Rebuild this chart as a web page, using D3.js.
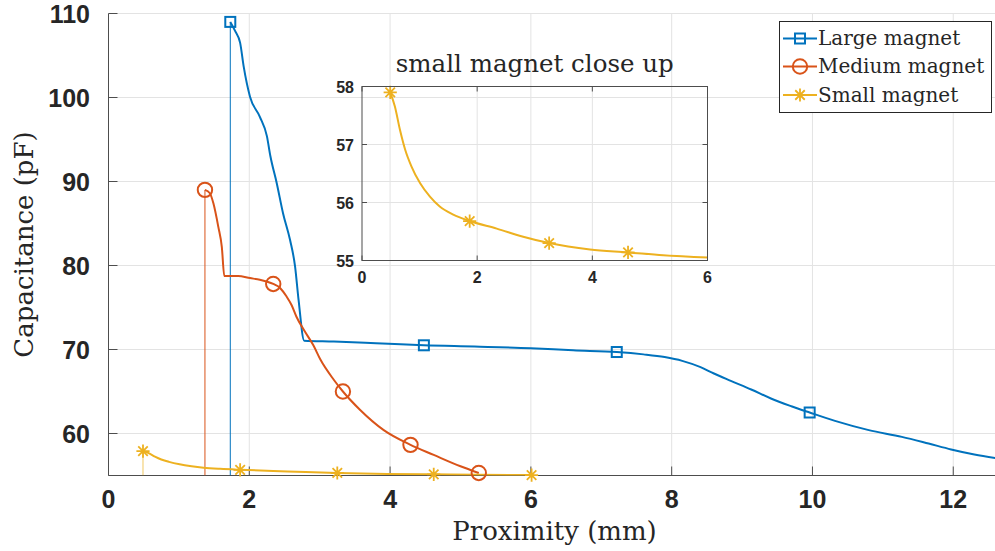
<!DOCTYPE html>
<html lang="en">
<head>
  <meta charset="UTF-8">
  <title>Capacitance vs Proximity</title>
  <script src="https://d3js.org/d3.v7.min.js"></script>
  <style>
    body { margin: 0; background: #fff; }
    .tick-lbl { font-family: "Liberation Sans", Arial, sans-serif; font-weight: bold; fill: #262626; }
    .serif { font-family: "DejaVu Serif", serif; fill: #262626; }
  </style>
</head>
<body>
<svg id="chart" width="995" height="551"></svg>

<script>
// ---- data ----
const largeX = [1.73,1.80,1.87,1.92,2.01,2.15,2.25,2.30,2.39,2.48,2.58,2.65,2.70,2.78,3.20,3.80,4.48,5.20,6.00,6.60,7.22,7.60,7.90,8.15,8.41,8.60,8.84,9.13,9.41,9.70,9.96,10.32,10.80,11.27,11.65,11.97,12.30,12.65];
const largeY = [109.0,107.9,106.5,103.7,100.1,97.7,95.4,93.0,89.8,86.2,83.0,79.9,75.9,71.05,70.95,70.75,70.5,70.35,70.15,69.9,69.7,69.42,69.1,68.65,67.9,67.14,66.27,65.24,64.17,63.25,62.5,61.5,60.4,59.6,58.8,58.1,57.5,57.0];
const largeMarkers = [0, 16, 20, 30];

const mediumX = [1.37,1.44,1.49,1.56,1.61,1.645,1.84,2.01,2.15,2.34,2.44,2.53,2.60,2.67,2.77,2.91,3.01,3.20,3.33,3.575,3.91,4.29,4.62,5.00,5.26];
const mediumY = [89.0,88.6,87.4,84.6,82.2,78.75,78.75,78.5,78.3,77.8,77.3,76.3,75.3,73.9,72.4,70.5,68.8,66.4,65.0,62.8,60.4,58.65,57.45,56.1,55.3];
const mediumMarkers = [0, 9, 18, 21, 24];

const smallX = [0.49,0.57,0.66,0.75,0.86,1.01,1.18,1.35,1.585,1.87,2.34,2.80,3.25,3.96,4.62,5.23,6.01];
const smallY = [57.9,57.66,57.25,56.91,56.62,56.33,56.10,55.93,55.79,55.68,55.55,55.41,55.30,55.19,55.14,55.09,55.05];
const smallMarkers = [0, 9, 12, 14, 16];

const seriesNames = ["Large magnet", "Medium magnet", "Small magnet"];
const xTicks = [0, 2, 4, 6, 8, 10, 12];
const yTicks = [60, 70, 80, 90, 100, 110];
const insetXTicks = [0, 2, 4, 6];
const insetYTicks = [55, 56, 57, 58];

const colors = ["#0072BD", "#D95319", "#EDB120"];
const shapes = ["square", "circle", "star"];

const series = [
  { name: seriesNames[0], xs: largeX, ys: largeY, marks: largeMarkers },
  { name: seriesNames[1], xs: mediumX, ys: mediumY, marks: mediumMarkers },
  { name: seriesNames[2], xs: smallX, ys: smallY, marks: smallMarkers }
].map((s, i) => ({
  ...s,
  color: colors[i],
  shape: shapes[i],
  pts: s.xs.map((v, j) => ({ x: v, y: s.ys[j] }))
}));

const svg = d3.select("#chart");

// main axes scales
const x = d3.scaleLinear().domain([0, 12.6]).range([108.5, 995.5]);
const y = d3.scaleLinear().domain([55, 110]).range([475.5, 13.5]);

// inset scales
const xi = d3.scaleLinear().domain([0, 6]).range([362, 707.5]);
const yi = d3.scaleLinear().domain([55, 58]).range([260.5, 86.5]);

const gridColor = "#e3e3e3";
const axisColor = "#4d4d4d";

function drawMarker(g, shape, cx, cy, color, size) {
  if (shape === "square") {
    g.append("rect")
      .attr("x", cx - size / 2).attr("y", cy - size / 2)
      .attr("width", size).attr("height", size)
      .attr("fill", "none").attr("stroke", color).attr("stroke-width", 2);
  } else if (shape === "circle") {
    g.append("circle")
      .attr("cx", cx).attr("cy", cy).attr("r", size * 0.72)
      .attr("fill", "none").attr("stroke", color).attr("stroke-width", 2);
  } else {
    const r = size * 0.66, d = r * 0.72;
    g.append("path")
      .attr("d", `M${cx - r},${cy}H${cx + r}M${cx},${cy - r}V${cy + r}` +
        `M${cx - d},${cy - d}L${cx + d},${cy + d}M${cx - d},${cy + d}L${cx + d},${cy - d}`)
      .attr("fill", "none").attr("stroke", color).attr("stroke-width", 1.8);
  }
}

// ---- main grid ----
svg.append("g").selectAll("line").data(xTicks.filter(t => t > 0)).join("line")
  .attr("x1", d => x(d)).attr("x2", d => x(d))
  .attr("y1", y(55)).attr("y2", y(110))
  .attr("stroke", gridColor);
svg.append("g").selectAll("line").data(yTicks).join("line")
  .attr("x1", x(0)).attr("x2", x(12.6))
  .attr("y1", d => y(d)).attr("y2", d => y(d))
  .attr("stroke", gridColor);

// ---- main axes (inward ticks) ----
svg.append("line").attr("x1", x(0)).attr("x2", x(0)).attr("y1", y(55)).attr("y2", y(110))
  .attr("stroke", axisColor);
svg.append("line").attr("x1", x(0)).attr("x2", x(12.6)).attr("y1", y(55)).attr("y2", y(55))
  .attr("stroke", axisColor);
svg.append("g").selectAll("line").data(xTicks).join("line")
  .attr("x1", d => x(d)).attr("x2", d => x(d))
  .attr("y1", y(55)).attr("y2", y(55) - 9)
  .attr("stroke", axisColor);
svg.append("g").selectAll("line").data(yTicks).join("line")
  .attr("x1", x(0)).attr("x2", x(0) + 9)
  .attr("y1", d => y(d)).attr("y2", d => y(d))
  .attr("stroke", axisColor);

svg.append("g").selectAll("text").data(xTicks).join("text")
  .attr("class", "tick-lbl")
  .attr("x", d => x(d)).attr("y", 508)
  .attr("text-anchor", "middle")
  .style("font-size", "25px")
  .text(d => d);
svg.append("g").selectAll("text").data(yTicks).join("text")
  .attr("class", "tick-lbl")
  .attr("x", 90).attr("y", d => y(d) + 9)
  .attr("text-anchor", "end")
  .style("font-size", "25px")
  .text(d => d);

svg.append("text")
  .attr("class", "serif")
  .attr("x", 554.5).attr("y", 540)
  .attr("text-anchor", "middle")
  .style("font-size", "26px")
  .text("Proximity (mm)");

svg.append("text")
  .attr("class", "serif")
  .attr("transform", "rotate(-90)")
  .attr("x", -(y(55) + y(110)) / 2).attr("y", 33)
  .attr("text-anchor", "middle")
  .style("font-size", "26px")
  .text("Capacitance (pF)");

// ---- main curves ----
svg.append("clipPath").attr("id", "mainClip")
  .append("rect").attr("x", x(0)).attr("y", 0).attr("width", x(12.6) - x(0)).attr("height", y(55));

const mainG = svg.append("g").attr("clip-path", "url(#mainClip)");

const mainLine = d3.line().x(d => x(d.x)).y(d => y(d.y)).curve(d3.curveMonotoneX);

series.forEach(s => {
  // thin vertical line from the axis up to the first sample
  mainG.append("line")
    .attr("x1", x(s.pts[0].x)).attr("x2", x(s.pts[0].x))
    .attr("y1", y(55)).attr("y2", y(s.pts[0].y))
    .attr("stroke", s.color).attr("stroke-width", 1)
    .attr("opacity", s.shape === "star" ? 0.7 : 1);
  mainG.append("path")
    .datum(s.pts)
    .attr("d", mainLine)
    .attr("fill", "none").attr("stroke", s.color).attr("stroke-width", 2)
    .attr("stroke-linejoin", "round");
});
series.forEach(s => {
  const mg = svg.append("g");
  s.marks.forEach(i => {
    const p = s.pts[i];
    if (p.x <= 12.6) drawMarker(mg, s.shape, x(p.x), y(p.y), s.color, 10);
  });
});

// ---- inset ----
const inset = svg.append("g");
inset.append("g").selectAll("line").data(insetXTicks.slice(1, -1)).join("line")
  .attr("x1", d => xi(d)).attr("x2", d => xi(d))
  .attr("y1", yi(55)).attr("y2", yi(58))
  .attr("stroke", gridColor);
inset.append("g").selectAll("line").data(insetYTicks.slice(1, -1)).join("line")
  .attr("x1", xi(0)).attr("x2", xi(6))
  .attr("y1", d => yi(d)).attr("y2", d => yi(d))
  .attr("stroke", gridColor);

svg.append("clipPath").attr("id", "insetClip")
  .append("rect").attr("x", xi(0)).attr("y", yi(58)).attr("width", xi(6) - xi(0)).attr("height", yi(55) - yi(58));

const small = series[2];
const insetLine = d3.line().x(d => xi(d.x)).y(d => yi(d.y)).curve(d3.curveMonotoneX);
inset.append("path")
  .datum(small.pts)
  .attr("clip-path", "url(#insetClip)")
  .attr("d", insetLine)
  .attr("fill", "none").attr("stroke", small.color).attr("stroke-width", 2);
small.marks.forEach(i => {
  const p = small.pts[i];
  if (p.x <= 6) drawMarker(inset, small.shape, xi(p.x), yi(p.y), small.color, 10);
});

inset.append("rect")
  .attr("x", xi(0)).attr("y", yi(58))
  .attr("width", xi(6) - xi(0)).attr("height", yi(55) - yi(58))
  .attr("fill", "none").attr("stroke", axisColor);

// inward ticks on all four sides
inset.append("g").selectAll("line").data(insetXTicks).join("line")
  .attr("x1", d => xi(d)).attr("x2", d => xi(d)).attr("y1", yi(55)).attr("y2", yi(55) - 5)
  .attr("stroke", axisColor);
inset.append("g").selectAll("line").data(insetXTicks).join("line")
  .attr("x1", d => xi(d)).attr("x2", d => xi(d)).attr("y1", yi(58)).attr("y2", yi(58) + 5)
  .attr("stroke", axisColor);
inset.append("g").selectAll("line").data(insetYTicks).join("line")
  .attr("x1", xi(0)).attr("x2", xi(0) + 5).attr("y1", d => yi(d)).attr("y2", d => yi(d))
  .attr("stroke", axisColor);
inset.append("g").selectAll("line").data(insetYTicks).join("line")
  .attr("x1", xi(6)).attr("x2", xi(6) - 5).attr("y1", d => yi(d)).attr("y2", d => yi(d))
  .attr("stroke", axisColor);

inset.append("g").selectAll("text").data(insetXTicks).join("text")
  .attr("class", "tick-lbl")
  .attr("x", d => xi(d)).attr("y", 283)
  .attr("text-anchor", "middle")
  .style("font-size", "16px")
  .text(d => d);
inset.append("g").selectAll("text").data(insetYTicks).join("text")
  .attr("class", "tick-lbl")
  .attr("x", 354).attr("y", d => yi(d) + 6)
  .attr("text-anchor", "end")
  .style("font-size", "16px")
  .text(d => d);

inset.append("text")
  .attr("class", "serif")
  .attr("x", (xi(0) + xi(6)) / 2).attr("y", 72)
  .attr("text-anchor", "middle")
  .style("font-size", "24.5px")
  .text("small magnet close up");

// ---- legend ----
const legend = svg.append("g");
legend.append("rect")
  .attr("x", 779.5).attr("y", 21.5).attr("width", 212).attr("height", 91)
  .attr("fill", "#fff").attr("stroke", "#262626");
const rowY = [38.5, 66.5, 95];
series.forEach((s, i) => {
  legend.append("line")
    .attr("x1", 783).attr("x2", 817).attr("y1", rowY[i]).attr("y2", rowY[i])
    .attr("stroke", s.color).attr("stroke-width", 2);
  drawMarker(legend, s.shape, 800, rowY[i], s.color, 10);
  legend.append("text")
    .attr("class", "serif")
    .attr("x", 818).attr("y", rowY[i] + 6.5)
    .style("font-size", "20px")
    .text(s.name);
});
</script>
</body>
</html>
